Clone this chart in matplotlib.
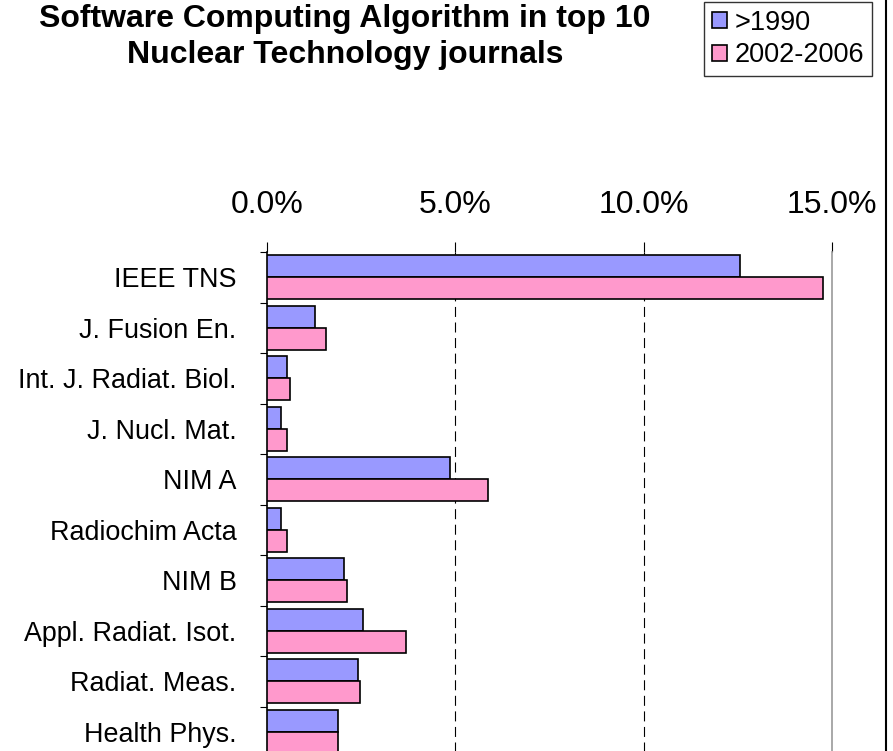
import numpy as np
import matplotlib
matplotlib.use("Agg")
import matplotlib.pyplot as plt
from matplotlib.lines import Line2D
from matplotlib.ticker import PercentFormatter

journals = [
    "IEEE TNS",
    "J. Fusion En.",
    "Int. J. Radiat. Biol.",
    "J. Nucl. Mat.",
    "NIM A",
    "Radiochim Acta",
    "NIM B",
    "Appl. Radiat. Isot.",
    "Radiat. Meas.",
    "Health Phys.",
]
since_1990 = [12.55, 1.27, 0.53, 0.37, 4.85, 0.37, 2.04, 2.55, 2.41, 1.88]
y2002_2006 = [14.75, 1.56, 0.61, 0.53, 5.86, 0.53, 2.12, 3.69, 2.47, 1.88]
x_ticks = [0, 5, 10, 15]

blue = "#9999FF"
pink = "#FF99CC"

plt.rcParams['font.family'] = ['Liberation Sans', 'DejaVu Sans']

W, H = 893, 751
fig = plt.figure(figsize=(W / 100, H / 100), dpi=100)
ax = fig.add_axes([267 / W, -6 / H, 565 / W, 505 / H])

y = np.arange(len(journals))
bh = 0.44
ax.barh(y - bh / 2, since_1990, height=bh, color=blue, edgecolor="black",
        linewidth=1.2, label=">1990", zorder=3)
ax.barh(y + bh / 2, y2002_2006, height=bh, color=pink, edgecolor="black",
        linewidth=1.2, label="2002-2006", zorder=3)

ax.set_xlim(0, 15)
ax.set_ylim(len(journals) - 0.5, -0.5)

ax.xaxis.tick_top()
ax.set_xticks(x_ticks)
ax.xaxis.set_major_formatter(PercentFormatter(decimals=1))
ax.tick_params(axis="x", direction="out", length=7, width=0.8, pad=16,
               labelsize=23, color="black")

ax.set_yticks(y)
ax.set_yticklabels(journals)
ax.set_yticks(np.arange(len(journals) + 1) - 0.5, minor=True)
ax.tick_params(axis="y", which="major", length=0, pad=22, labelsize=19.4)
ax.tick_params(axis="y", which="minor", direction="out", length=5, width=0.8)

for v in x_ticks[1:-1]:
    ax.axvline(v, color="black", linewidth=0.8, linestyle=(0, (9, 5)), zorder=1)

for s in ["top", "bottom"]:
    ax.spines[s].set_visible(False)
ax.spines["left"].set_color("black")
ax.spines["left"].set_linewidth(1.2)
ax.spines["right"].set_color("#999999")
ax.spines["right"].set_linewidth(1.2)

fig.text(345 / W, 1 - 27 / H, "Software Computing Algorithm in top 10",
         ha="center", va="baseline", fontsize=23, fontweight="bold")
fig.text(345 / W, 1 - 63 / H, "Nuclear Technology journals",
         ha="center", va="baseline", fontsize=23, fontweight="bold")

leg = fig.legend(loc="upper right", bbox_to_anchor=(872 / W, 1 - 2 / H),
                 fontsize=19.5, frameon=True, fancybox=False, shadow=False,
                 handlelength=0.55, handleheight=0.55, handletextpad=0.3,
                 labelspacing=0.25, borderpad=0.28, borderaxespad=0)
leg.get_frame().set_edgecolor("black")
leg.get_frame().set_linewidth(1.0)

fig.add_artist(Line2D([886 / W, 886 / W], [0, 1], color="black", linewidth=1.5))

fig.savefig("out.png", dpi=100)
